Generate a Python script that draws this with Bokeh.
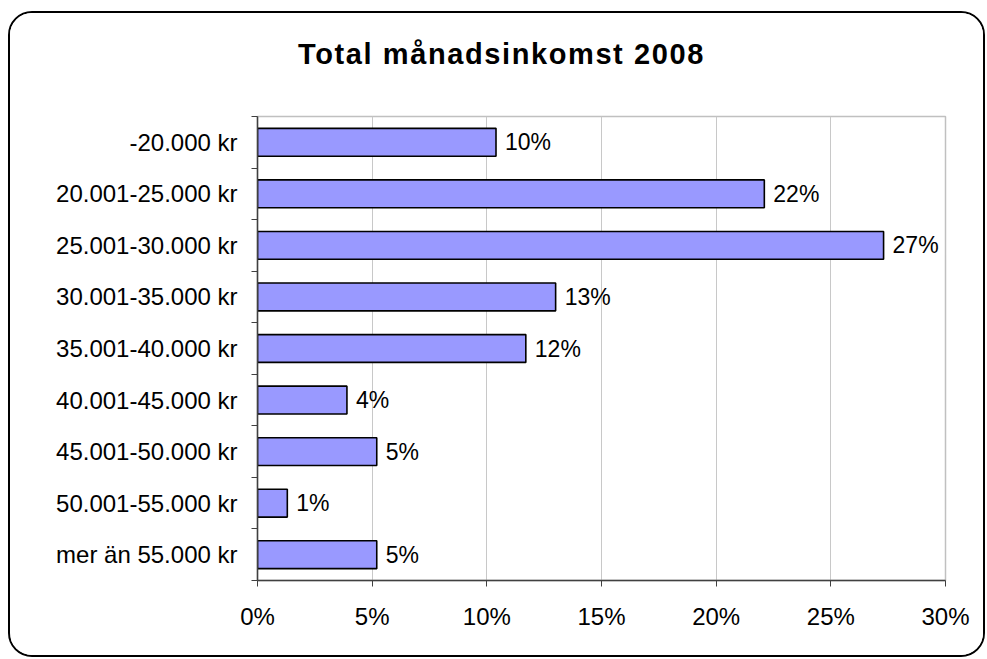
from bokeh.plotting import figure
from bokeh.layouts import column
from bokeh.models import (Range1d, FixedTicker, PrintfTickFormatter, Div,
                          ColumnDataSource)
from bokeh.core.properties import value
from bokeh.embed import file_html
from bokeh.resources import INLINE

categories = ["-20.000 kr", "20.001-25.000 kr", "25.001-30.000 kr", "30.001-35.000 kr",
              "35.001-40.000 kr", "40.001-45.000 kr", "45.001-50.000 kr",
              "50.001-55.000 kr", "mer än 55.000 kr"]
shares = [10.4, 22.1, 27.3, 13.0, 11.7, 3.9, 5.2, 1.3, 5.2]
share_labels = ["10%", "22%", "27%", "13%", "12%", "4%", "5%", "1%", "5%"]
x_ticks = [0, 5, 10, 15, 20, 25, 30]
title_text = "Total månadsinkomst 2008"

FONT = "Liberation Sans"
n = len(categories)
centers = [i + 0.5 for i in range(n)]

src = ColumnDataSource(dict(y=centers, share=shares, lab=share_labels))

TITLE_H = 60
p = figure(width=973, height=642 - TITLE_H, output_backend="svg", toolbar_location=None,
           x_range=Range1d(0, 30), y_range=Range1d(n, 0),
           min_border_left=247, min_border_right=38, min_border_top=116 - 13 - TITLE_H,
           min_border_bottom=75)
p.background_fill_color = "white"
p.border_fill_color = "white"
p.outline_line_color = "#c0c0c0"
p.outline_line_width = 1.5

p.hbar(y="y", right="share", left=0, height=0.54, source=src,
       fill_color="#9999FF", line_color="black", line_width=1.6)
p.text(x="share", y="y", text="lab", source=src, x_offset=9,
       text_baseline="middle", text_align="left", text_color="black",
       text_font=value(FONT), text_font_size="23px")

# grid
p.ygrid.visible = False
p.xgrid.ticker = FixedTicker(ticks=x_ticks)
p.xgrid.grid_line_color = "#c8c8c8"
p.xgrid.grid_line_width = 1

# x axis
xa = p.xaxis[0]
xa.ticker = FixedTicker(ticks=x_ticks)
xa.formatter = PrintfTickFormatter(format="%d%%")
xa.axis_line_color = "#404040"
xa.axis_line_width = 1.5
xa.major_tick_line_color = "#404040"
xa.major_tick_out = 6
xa.major_tick_in = 0
xa.minor_tick_line_color = None
xa.major_label_text_font = FONT
xa.major_label_text_font_size = "24px"
xa.major_label_text_color = "black"
xa.major_label_standoff = 16

# y axis
ya = p.yaxis[0]
ya.ticker = FixedTicker(ticks=centers, minor_ticks=list(range(n + 1)))
ya.major_label_overrides = {c: lab for c, lab in zip(centers, categories)}
ya.axis_line_color = "#404040"
ya.axis_line_width = 1.5
ya.major_tick_line_color = None
ya.major_tick_out = 6
ya.major_tick_in = 0
ya.minor_tick_line_color = "#404040"
ya.minor_tick_out = 6
ya.minor_tick_in = 0
ya.major_label_text_font = FONT
ya.major_label_text_font_size = "24px"
ya.major_label_text_color = "black"
ya.major_label_standoff = 14

title = Div(text='<div style="padding-top:27px;padding-left:288px;">'
                 + title_text + '</div>',
            width=973, height=TITLE_H, margin=0,
            styles={"font-family": FONT, "font-size": "29px", "font-weight": "bold",
                    "letter-spacing": "1.6px", "line-height": "29px",
                    "color": "black", "background-color": "white"})

layout = column(title, p, spacing=0,
                styles={"border": "2px solid black", "border-radius": "24px",
                        "margin-left": "8px", "margin-top": "11px",
                        "background-color": "white", "overflow": "hidden"})

open("out.html", "w").write(file_html(layout, INLINE))
